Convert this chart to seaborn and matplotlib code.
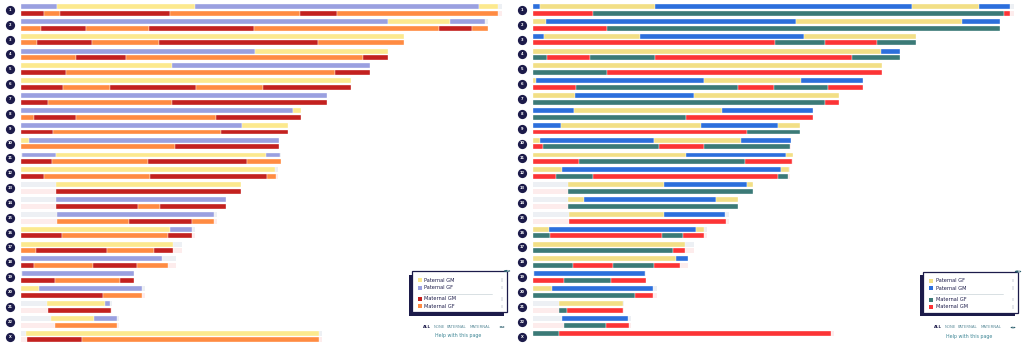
import numpy as np
import pandas as pd
import matplotlib
matplotlib.use("Agg")
import matplotlib.pyplot as plt
from matplotlib.patches import Rectangle, Circle
import seaborn as sns

sns.set_style("white")
plt.rcParams['font.family'] = ['DejaVu Sans']

# ---------------- data (positions in Mb) ----------------
CHROMS = [str(i) for i in range(1, 23)] + ["X"]
CHROM_LEN = [251, 244, 199.7, 191.5, 182, 172, 159.9, 146.1, 139.5, 134.8, 135.7, 134.0,
             114.8, 107.2, 102.5, 90.8, 83.9, 80.9, 59.1, 64.9, 47.5, 51.1, 157]

# each chromosome: (start, [(code, end), ...]); A/B paternal, C/D maternal
LEFT_PATERNAL = [
    (0, [("B", 19), ("A", 90.8), ("B", 239.2), ("A", 249)]),
    (0, [("B", 191.7), ("A", 224.1), ("B", 242.3)]),
    (0, [("A", 199.7)]),
    (0, [("B", 122.1), ("A", 191.5)]),
    (0, [("A", 78.6), ("B", 182)]),
    (0, [("A", 172)]),
    (0, [("B", 159.9)]),
    (0, [("B", 141.8), ("A", 146.1)]),
    (0, [("B", 115.3), ("A", 139.2)]),
    (0, [("A", 4.2), ("B", 134.8)]),
    (0.5, [("B", 18.3), ("A", 127.9), ("B", 135.3)]),
    (0, [("A", 132.6)]),
    (18.3, [("A", 114.8)]),
    (18.4, [("B", 107.2)]),
    (18.6, [("B", 100.9)]),
    (0, [("A", 77.9), ("B", 89.2)]),
    (0, [("A", 79.3)]),
    (0, [("B", 73.8)]),
    (0.5, [("B", 59.1)]),
    (0, [("A", 9.4), ("B", 63)]),
    (13.6, [("A", 43.8), ("B", 46.5)]),
    (15.5, [("A", 38.1), ("B", 50)]),
    (2.6, [("A", 155.7)]),
]
LEFT_MATERNAL = [
    (0, [("C", 12.2), ("D", 20.4), ("C", 77.9), ("D", 145.6), ("C", 164.8), ("D", 249)]),
    (0, [("D", 10.4), ("C", 34.1), ("D", 67), ("C", 121.8), ("D", 218.3), ("C", 235.5), ("D", 243.9)]),
    (0, [("D", 8.5), ("C", 36.9), ("D", 72), ("C", 155.2), ("D", 199.7)]),
    (0, [("D", 28.7), ("C", 55), ("D", 178.7), ("C", 191.5)]),
    (0, [("C", 23.3), ("D", 163.9), ("C", 182)]),
    (0, [("C", 21.8), ("D", 46.5), ("C", 91.3), ("D", 126.5), ("C", 172)]),
    (0, [("C", 13.9), ("D", 79), ("C", 159.9)]),
    (0, [("D", 6.6), ("C", 28.7), ("D", 101.6), ("C", 146.1)]),
    (0, [("C", 16.7), ("D", 104.4), ("C", 139.5)]),
    (0, [("D", 80.4), ("C", 134.8)]),
    (0, [("C", 16), ("D", 66.3), ("C", 118), ("D", 135.7)]),
    (0, [("C", 12), ("D", 67.3), ("C", 128.2), ("D", 133.1)]),
    (18.3, [("C", 114.8)]),
    (18.4, [("C", 61.2), ("D", 72.4), ("C", 107.2)]),
    (18.6, [("D", 56.4), ("C", 89.2), ("D", 100.9)]),
    (0, [("C", 21.4), ("D", 76.9), ("C", 89.2)]),
    (0, [("D", 7.8), ("C", 44.7), ("D", 69.3), ("C", 79.2)]),
    (0, [("C", 6.6), ("D", 37.4), ("C", 60.4), ("D", 76.7)]),
    (0, [("C", 17.6), ("D", 51.8), ("C", 59.1)]),
    (0, [("C", 42.6), ("D", 63)]),
    (14.2, [("C", 47)]),
    (17.9, [("D", 50)]),
    (3, [("C", 31.7), ("D", 155.7)]),
]
RIGHT_PATERNAL = [
    (0, [("B", 3.8), ("A", 63.5), ("B", 197.6), ("A", 232.8), ("B", 249)]),
    (0, [("A", 6.8), ("B", 137.4), ("A", 223.7), ("B", 243.9)]),
    (0, [("B", 5.6), ("A", 56), ("B", 141.4), ("A", 199.7)]),
    (0, [("A", 181.6), ("B", 191.5)]),
    (0, [("A", 182)]),
    (0, [("A", 1.7), ("B", 89.2), ("A", 139.9), ("B", 172)]),
    (0, [("A", 21.8), ("B", 83.9), ("A", 159.9)]),
    (0, [("B", 21.4), ("A", 98.8), ("B", 146.1)]),
    (0, [("B", 14.5), ("A", 87.7), ("B", 127.7), ("A", 139.2)]),
    (0, [("A", 3.8), ("B", 63), ("A", 108.6), ("B", 134.8)]),
    (0, [("A", 80), ("B", 132.2), ("A", 135.7)]),
    (0, [("A", 15), ("B", 129.6), ("A", 133.4)]),
    (18.4, [("A", 68.2), ("B", 111.5), ("A", 114.8)]),
    (18.3, [("A", 26.8), ("B", 95.5), ("A", 107.2)]),
    (18.6, [("A", 68.4), ("B", 100.4)]),
    (0, [("A", 8.2), ("B", 85.1), ("A", 89.2)]),
    (0, [("A", 79.3)]),
    (0, [("A", 74.8), ("B", 80.9)]),
    (0.5, [("B", 58.6)]),
    (0, [("A", 9.9), ("B", 62.8)]),
    (13.4, [("A", 47)]),
    (15.1, [("B", 49.6)]),
    None,
]
RIGHT_MATERNAL = [
    (0, [("D", 31.2), ("C", 245.8), ("D", 249)]),
    (0, [("D", 38.5), ("C", 243.9)]),
    (0, [("D", 126.5), ("C", 152.6), ("D", 179.4), ("C", 199.7)]),
    (0, [("C", 7.5), ("D", 29.9), ("C", 63.7), ("D", 166.5), ("C", 191.5)]),
    (0, [("C", 38.6), ("D", 182)]),
    (0, [("D", 22.3), ("C", 107.2), ("D", 125.6), ("C", 153.8), ("D", 172)]),
    (0, [("C", 152.2), ("D", 159.9)]),
    (0, [("C", 79.9), ("D", 146.1)]),
    (0, [("D", 111.7), ("C", 139.5)]),
    (0, [("D", 5.2), ("C", 65.8), ("D", 89.2), ("C", 134.1)]),
    (0, [("D", 24), ("C", 110.8), ("D", 135.3)]),
    (0, [("D", 11.8), ("C", 31.2), ("D", 127.9), ("C", 133.1)]),
    (18.1, [("C", 114.8)]),
    (18.3, [("C", 107)]),
    (18.6, [("D", 100.9)]),
    (0, [("C", 8.7), ("D", 67.3), ("C", 78.3), ("D", 89.2)]),
    (0, [("C", 73.2), ("D", 79.2)]),
    (0, [("C", 21), ("D", 41.9), ("C", 63.3), ("D", 76.6)]),
    (0, [("D", 16.3), ("C", 40.9), ("D", 58.8)]),
    (0, [("C", 53.1), ("D", 62.8)]),
    (13.4, [("C", 17.9), ("D", 47)]),
    (16, [("C", 38.3), ("D", 50)]),
    (0, [("C", 13.6), ("D", 155.7)]),
]

LEFT_LABELS = ["Paternal GM", "Paternal GF", "Maternal GM", "Maternal GF"]
RIGHT_LABELS = ["Paternal GF", "Paternal GM", "Maternal GF", "Maternal GM"]
LEFT_COLORS = {"A": "#fce98e", "B": "#9aa0e0", "C": "#c3211f", "D": "#ff8b42"}
RIGHT_COLORS = {"A": "#f2df86", "B": "#2c6fdc", "C": "#3b7a77", "D": "#fc3436"}
LINK_LABELS = ["ALL", "NONE", "PATERNAL", "MATERNAL"]

NAVY = "#1c1b4a"
FAINT_TOP = "#edf0f4"
FAINT_BOT = "#fdecec"

# ---------------- figure ----------------
W, H = 1024, 346
fig = plt.figure(figsize=(W / 100, H / 100), dpi=100)
PX_PER_MB = 1.9157
X0 = 21
ROW_H = 14.85
Y0 = 6.5
BOT_OFF = 6.7 / ROW_H
BAR_H = 0.33


def to_frame(rows, offset):
    recs = []
    for i, r in enumerate(rows):
        if r is None:
            continue
        start, segs = r
        s = start
        for code, end in segs:
            recs.append(dict(row=i + offset, start=s, end=end, code=code))
            s = end
    return pd.DataFrame(recs)


def draw_panel(ax, pat, mat, colors, x_single=False):
    ax.set_xlim(-X0 / PX_PER_MB, (512 - X0) / PX_PER_MB)
    ax.set_ylim((H - Y0) / ROW_H, -Y0 / ROW_H)
    ax.axis("off")
    n = len(CHROMS)
    top_y = np.arange(n, dtype=float)
    bot_y = top_y + BOT_OFF
    # faint background bars
    lens = np.array(CHROM_LEN)
    has_top = np.array([p is not None for p in pat])
    ax.barh(top_y[has_top], lens[has_top], left=0, height=BAR_H, color=FAINT_TOP, lw=0)
    mat_y = bot_y.copy()
    if x_single:
        mat_y[-1] = top_y[-1]
    ax.barh(mat_y, lens, left=0, height=BAR_H, color=FAINT_BOT, lw=0)
    # segments
    dp = to_frame(pat, 0.0)
    ax.barh(dp["row"], dp["end"] - dp["start"], left=dp["start"], height=BAR_H,
            color=[colors[c] for c in dp["code"]], edgecolor="white", lw=0.25)
    dm = to_frame(mat, 0.0)
    ym = np.array([mat_y[int(r)] for r in dm["row"]])
    ax.barh(ym, dm["end"] - dm["start"], left=dm["start"], height=BAR_H,
            color=[colors[c] for c in dm["code"]], edgecolor="white", lw=0.25)
    # numbered circles
    cx = (10 - X0) / PX_PER_MB
    cy = top_y + BOT_OFF / 2
    ax.scatter(np.full(n, cx), cy, s=44, color=NAVY, lw=0, zorder=3, clip_on=False)
    for lab, y in zip(CHROMS, cy):
        ax.text(cx, y, lab, color="white", fontsize=2.6, ha="center", va="center",
                fontweight="bold", zorder=4)


def fx(px):
    return px / W


def fy(py):
    return 1 - py / H


def draw_legend(bx, by, labels, colors):
    bw, bh = 95, 41
    # shadow
    fig.patches.append(Rectangle((fx(bx - 3), fy(by + bh + 3.5)), bw / W, bh / H,
                                 transform=fig.transFigure, color=NAVY, lw=0))
    fig.patches.append(Rectangle((fx(bx), fy(by + bh)), bw / W, bh / H,
                                 transform=fig.transFigure, facecolor="white",
                                 edgecolor=NAVY, lw=0.9))
    # close icon
    fig.patches.append(Circle((fx(bx + bw), fy(by)), 3.2 / W, transform=fig.transFigure,
                              color="#2c5f6e", lw=0))
    fig.text(fx(bx + bw), fy(by), "×", color="white", fontsize=3.5, ha="center", va="center")
    codes = ["A", "B", "C", "D"]
    ys = [by + 9, by + 16.5, by + 28, by + 35.3]
    for lab, code, yy in zip(labels, codes, ys):
        fig.patches.append(Rectangle((fx(bx + 5.5), fy(yy + 2)), 4.5 / W, 4 / H,
                                     transform=fig.transFigure, color=colors[code], lw=0))
        fig.text(fx(bx + 12.5), fy(yy), lab, color=NAVY, fontsize=3.6, ha="left", va="center")
        fig.patches.append(Rectangle((fx(bx + bw - 6.5), fy(yy + 1.8)), 2.5 / W, 3.6 / H,
                                     transform=fig.transFigure, color="#e6e8ec", lw=0))
    fig.lines.append(plt.Line2D([fx(bx + 10), fx(bx + bw - 15)], [fy(by + 22.5)] * 2,
                                transform=fig.transFigure, color="#c9d3d8", lw=0.5))
    # links
    lx = bx + 11.3
    offs = [0, 10.7, 23.7, 46.8]
    for lab, o in zip(LINK_LABELS, offs):
        fig.text(fx(lx + o), fy(by + 56), lab, fontsize=2.8,
                 color=NAVY if lab == "ALL" else "#5d8d9b",
                 fontweight="bold" if lab == "ALL" else "normal", ha="left", va="center")
    fig.patches.append(Circle((fx(bx + bw - 5), fy(by + 56)), 2.4 / W, transform=fig.transFigure,
                              color="#2c5f6e", lw=0))
    fig.text(fx(bx + bw - 5), fy(by + 56), "?", color="white", fontsize=2.8,
             ha="center", va="center", fontweight="bold")
    fig.text(fx(bx + 46), fy(by + 65), "Help with this page", color="#3f8796",
             fontsize=3.4, ha="center", va="center")


ax_l = fig.add_axes([0, 0, 0.5, 1])
ax_r = fig.add_axes([0.5, 0, 0.5, 1])
draw_panel(ax_l, LEFT_PATERNAL, LEFT_MATERNAL, LEFT_COLORS)
draw_panel(ax_r, RIGHT_PATERNAL, RIGHT_MATERNAL, RIGHT_COLORS, x_single=True)
draw_legend(412, 271, LEFT_LABELS, LEFT_COLORS)
draw_legend(923, 271.5, RIGHT_LABELS, RIGHT_COLORS)

fig.savefig("out.png", dpi=100, facecolor="white")
